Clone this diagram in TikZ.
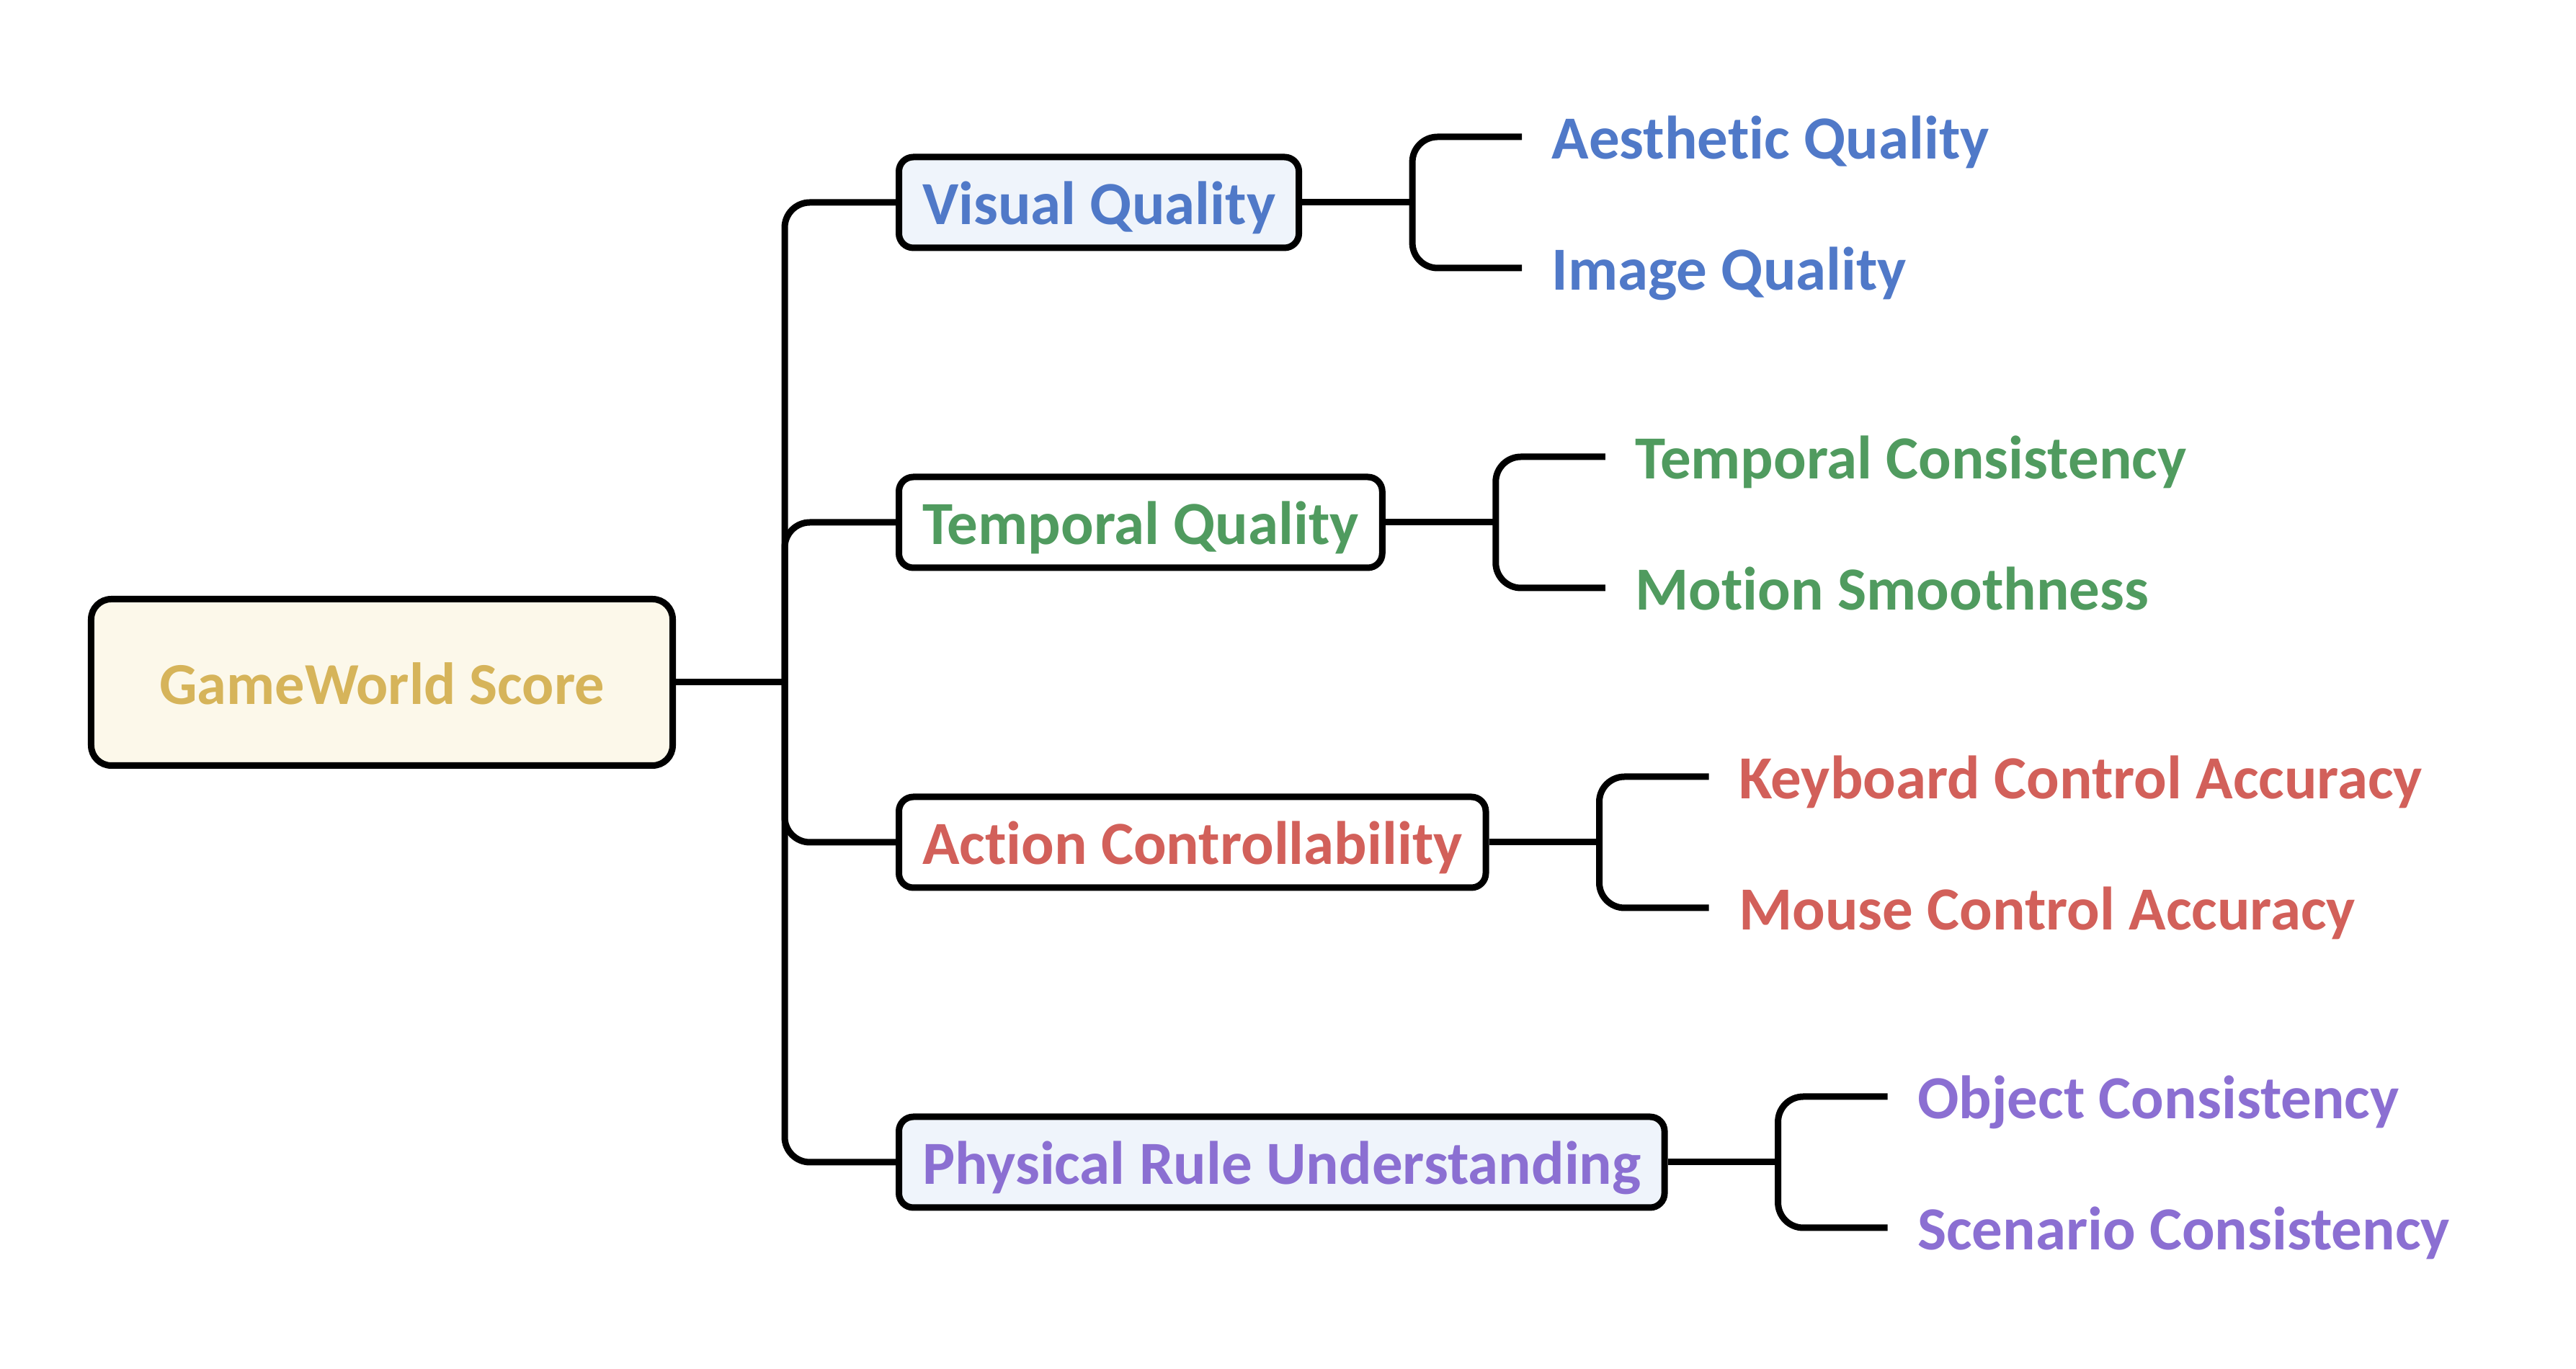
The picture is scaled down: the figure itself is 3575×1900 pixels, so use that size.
\documentclass[tikz,border=0pt]{standalone}
\usepackage{fontspec}
\setmainfont[RawFeature=-liga]{Carlito}
\usetikzlibrary{positioning}

\definecolor{scoregold}{HTML}{D6B45A}
\definecolor{scorefill}{HTML}{FCF8EA}
\definecolor{dimfill}{HTML}{EFF4FB}
\definecolor{visblue}{HTML}{5079C8}
\definecolor{tempgreen}{HTML}{509B5F}
\definecolor{actred}{HTML}{D2605A}
\definecolor{physpurple}{HTML}{8B6FD2}

\begin{document}
\begin{tikzpicture}[x=0.2pt,y=-0.2pt,line width=1.8pt,
  every node/.style={font=\fontsize{17}{20}\selectfont\bfseries,text height=12.4pt,text depth=0pt},
  score/.style={draw,rounded corners=5.6pt,fill=scorefill,text=scoregold,
    font=\fontsize{16.5}{20}\selectfont\bfseries,minimum width=161.4pt,minimum height=46.2pt},
  dim/.style={draw,rounded corners=4pt,minimum height=25.2pt,inner xsep=6.5pt,anchor=west},
  leaf/.style={inner sep=0pt}]
  \useasboundingbox (0,0) rectangle (3575,1900);

  % root and the four dimensions
  \node[score] (root) at (530,947) {GameWorld Score};
  \coordinate (spine) at (1089,947);

  \node[dim,fill=dimfill,text=visblue]  (visual)   at (1243,281)  {Visual Quality};
  \node[dim,fill=white,text=tempgreen]  (temporal) at (1243,725)  {Temporal Quality};
  \node[dim,fill=white,text=actred]     (action)   at (1243,1169) {Action Controllability};
  \node[dim,fill=dimfill,text=physpurple] (physical) at (1243,1613) {Physical Rule Understanding};

  \draw (root) -- (spine);
  \foreach \d in {visual,temporal,action,physical}
    \draw[rounded corners=7pt] (spine) |- (\d.west);

  % sub-dimensions
  \foreach \d/\a/\b/\c in {visual/Aesthetic Quality/Image Quality/visblue,
      temporal/Temporal Consistency/Motion Smoothness/tempgreen,
      action/Keyboard Control Accuracy/Mouse Control Accuracy/actred,
      physical/Object Consistency/Scenario Consistency/physpurple} {
    \coordinate (\d-fork) at ([xshift=30.6pt]\d.east);
    \coordinate (\d-top) at ([xshift=61pt,yshift=18.2pt]\d.east);
    \coordinate (\d-bot) at ([xshift=61pt,yshift=-18.2pt]\d.east);
    \node[leaf,text=\c,right=7.4pt of \d-top] (\d-a) {\a};
    \node[leaf,text=\c,right=7.4pt of \d-bot] (\d-b) {\b};
    \draw (\d.east) -- (\d-fork);
    \draw[rounded corners=7pt] (\d-top) -| (\d-fork) |- (\d-bot);
  }
\end{tikzpicture}
\end{document}
